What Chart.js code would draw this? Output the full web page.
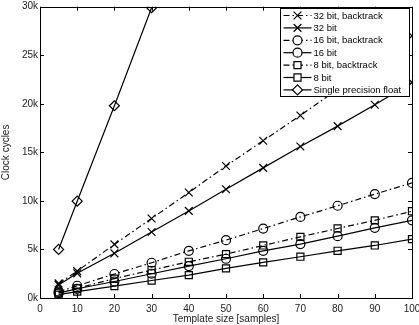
<!DOCTYPE html>
<html>
<head>
<meta charset="utf-8">
<script src="https://cdn.jsdelivr.net/npm/chart.js@4"></script>
<style>
  html, body { margin: 0; padding: 0; background: #fff; }
  #wrap { width: 419px; height: 325px; }
</style>
</head>
<body>
<div id="wrap"><canvas id="myChart" width="419" height="325"></canvas></div>
<script>
// template sizes in samples
const sizes = [5, 10, 20, 30, 40, 50, 60, 70, 80, 90, 100]
const floatSizes = [5, 10, 20, 30]

// clock cycles per series
const bit32Backtrack = [1500, 2770, 5520, 8190, 10860, 13600, 16200, 18800, 21500, 24200, 27000]
const bit32 = [1350, 2540, 4600, 6800, 8970, 11200, 13400, 15600, 17700, 19900, 22200]
const bit16Backtrack = [650, 1260, 2470, 3630, 4860, 5960, 7150, 8350, 9500, 10700, 11850]
const bit16 = [500, 950, 1700, 2500, 3290, 4040, 4860, 5550, 6370, 7230, 8000]
const bit8Backtrack = [550, 1000, 2000, 2880, 3730, 4520, 5410, 6300, 7160, 8000, 8940]
const bit8 = [350, 650, 1230, 1800, 2360, 3050, 3670, 4250, 4860, 5410, 6060]
const singleFloat = [5000, 9970, 19800, 29900]

const labels = ['32 bit, backtrack', '32 bit', '16 bit, backtrack', '16 bit', '8 bit, backtrack', '8 bit', 'Single precision float']
const xTicks = [0, 10, 20, 30, 40, 50, 60, 70, 80, 90, 100]
const yTicks = [0, 5000, 10000, 15000, 20000, 25000, 30000]

const dashDot = [6, 3, 1.5, 3]
const fontFamily = '"Liberation Sans", Arial, sans-serif'

function toPoints(xs, ys) {
    return xs.map((x, i) => ({ x: x, y: ys[i] }))
}

function series(label, xs, ys, marker, radius, dashed) {
    return {
        label: label,
        data: toPoints(xs, ys),
        borderColor: '#000',
        borderWidth: 1.2,
        borderDash: dashed ? dashDot : [],
        pointStyle: marker,
        pointRadius: radius,
        pointBorderColor: '#000',
        pointBackgroundColor: 'rgba(0,0,0,0)',
        pointBorderWidth: 1.2,
        tension: 0,
        fill: false
    }
}

const datasets = [
    series(labels[0], sizes, bit32Backtrack, 'crossRot', 5.5, true),
    series(labels[1], sizes, bit32, 'crossRot', 5.5, false),
    series(labels[2], sizes, bit16Backtrack, 'circle', 4.5, true),
    series(labels[3], sizes, bit16, 'circle', 4.5, false),
    series(labels[4], sizes, bit8Backtrack, 'rect', 5, true),
    series(labels[5], sizes, bit8, 'rect', 5, false),
    series(labels[6], floatSizes, singleFloat, 'rectRot', 5, false)
]

// box round the plot, inward ticks and the legend (matlab style)
const matlabFrame = {
    id: 'matlabFrame',
    afterDraw(chart) {
        const ctx = chart.ctx
        const a = chart.chartArea
        const xs = chart.scales.x
        const ys = chart.scales.y
        ctx.save()
        ctx.strokeStyle = '#000'
        ctx.lineWidth = 1
        ctx.setLineDash([])
        ctx.beginPath()
        xTicks.forEach(v => {
            const px = Math.round(xs.getPixelForValue(v)) + 0.5
            ctx.moveTo(px, a.bottom); ctx.lineTo(px, a.bottom - 4)
            ctx.moveTo(px, a.top); ctx.lineTo(px, a.top + 4)
        })
        yTicks.forEach(v => {
            const py = Math.round(ys.getPixelForValue(v)) + 0.5
            ctx.moveTo(a.left, py); ctx.lineTo(a.left + 4, py)
            ctx.moveTo(a.right, py); ctx.lineTo(a.right - 4, py)
        })
        ctx.stroke()
        ctx.strokeRect(Math.round(a.left) + 0.5, Math.round(a.top) + 0.5,
            Math.round(a.right - a.left), Math.round(a.bottom - a.top))

        // legend
        const bx = 280.5, by = 8.5, bw = 129, bh = 88
        ctx.fillStyle = '#fff'
        ctx.fillRect(bx, by, bw, bh)
        ctx.strokeRect(bx, by, bw, bh)
        ctx.font = '9.5px ' + fontFamily
        ctx.textBaseline = 'middle'
        ctx.textAlign = 'left'
        datasets.forEach((ds, i) => {
            const y = by + 7 + i * 12.4
            ctx.beginPath()
            ctx.setLineDash(ds.borderDash)
            ctx.lineWidth = 1.2
            ctx.strokeStyle = '#000'
            ctx.moveTo(bx + 3, y); ctx.lineTo(bx + 31, y)
            ctx.stroke()
            ctx.setLineDash([])
            ctx.fillStyle = '#fff'
            Chart.helpers.drawPoint(ctx, {
                pointStyle: ds.pointStyle,
                radius: ds.pointRadius,
                borderWidth: 1.2,
                rotation: 0
            }, bx + 17, y)
            ctx.fillStyle = '#000'
            ctx.fillText(ds.label, bx + 33, y + 0.5)
        })
        ctx.restore()
    }
}

const ctx = document.getElementById('myChart')

new Chart(ctx, {
    type: 'line',
    data: { datasets: datasets },
    options: {
        responsive: false,
        animation: false,
        layout: { padding: { left: 0, top: 6, right: 7, bottom: 0 } },
        plugins: {
            legend: { display: false },
            tooltip: { enabled: false }
        },
        scales: {
            x: {
                type: 'linear',
                min: 0,
                max: 100,
                grid: { display: false, drawTicks: false },
                border: { display: false },
                ticks: {
                    stepSize: 10,
                    color: '#222',
                    padding: 5,
                    maxRotation: 0,
                    font: { family: fontFamily, size: 10 }
                },
                title: {
                    display: true,
                    text: 'Template size [samples]',
                    color: '#222',
                    padding: { top: 0, bottom: 0 },
                    font: { family: fontFamily, size: 10 }
                },
                afterFit: s => { s.height = 27; s.paddingLeft = 0; s.paddingRight = 0 }
            },
            y: {
                min: 0,
                max: 30000,
                grid: { display: false, drawTicks: false },
                border: { display: false },
                ticks: {
                    stepSize: 5000,
                    color: '#222',
                    padding: 2,
                    font: { family: fontFamily, size: 10 },
                    callback: v => (v / 1000) + 'k'
                },
                title: {
                    display: true,
                    text: 'Clock cycles',
                    color: '#222',
                    padding: { top: 0, bottom: 2 },
                    font: { family: fontFamily, size: 10 }
                },
                afterFit: s => { s.width = 40; s.paddingTop = 0; s.paddingBottom = 0 }
            }
        }
    },
    plugins: [matlabFrame]
})
</script>
</body>
</html>
